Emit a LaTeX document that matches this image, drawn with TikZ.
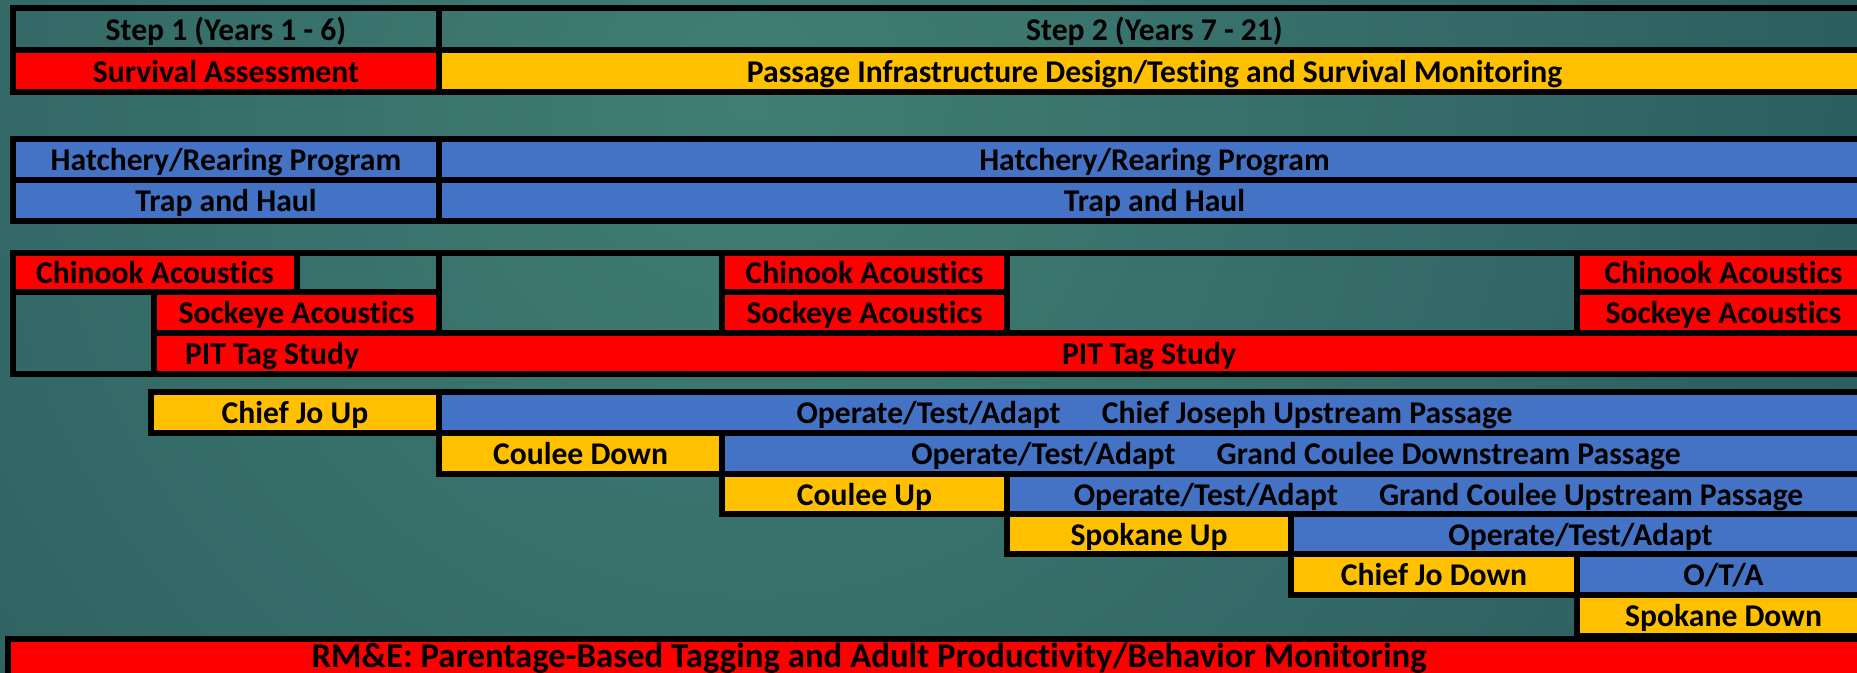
\documentclass[tikz,border=0pt]{standalone}
\usepackage{fontspec}
\setmainfont{Carlito}[Ligatures=NoCommon]
\usetikzlibrary{positioning}

\definecolor{barred}{HTML}{FF0000}
\definecolor{bargold}{HTML}{FFC000}
\definecolor{barblue}{HTML}{4472C4}
\definecolor{bgin}{HTML}{417E74}
\definecolor{bgout}{HTML}{17404C}

\begin{document}
\begin{tikzpicture}[
    cell/.style={draw=black, line width=1.5pt, anchor=north west, inner sep=0pt, outer sep=0pt,
      font=\bfseries\fontsize{9}{10}\selectfont, text height=0.64em, text depth=0pt},
    redbar/.style={cell, fill=barred},
    goldbar/.style={cell, fill=bargold},
    bluebar/.style={cell, fill=barblue},
    blank/.style={cell},
    lbl/.style={inner sep=0pt, font=\bfseries\fontsize{9}{10}\selectfont, text height=0.64em, text depth=0pt}]
    \useasboundingbox (0,0) rectangle (18.57,-6.73);
    \clip (0,0) rectangle (18.57,-6.73);
    \shade[inner color=bgin, outer color=bgout] (7.5,-1.0) circle (22);

    \node[blank, minimum width=4.26cm, minimum height=0.42cm] (step1) at (0.13,-0.08) {Step 1 (Years 1 - 6)};
    \node[blank, right=0pt of step1, minimum width=14.31cm, minimum height=0.42cm] (step2) {Step 2 (Years 7 - 21)};
    \node[redbar, below=0pt of step1, minimum width=4.26cm, minimum height=0.42cm] (surv) {Survival Assessment};
    \node[goldbar, right=0pt of surv, minimum width=14.31cm, minimum height=0.42cm] (design) {Passage Infrastructure Design/Testing and Survival Monitoring};

    \node[bluebar, minimum width=4.26cm, minimum height=0.41cm] (hatch1) at (0.13,-1.39) {Hatchery/Rearing Program};
    \node[bluebar, right=0pt of hatch1, minimum width=14.31cm, minimum height=0.41cm] (hatch2) {Hatchery/Rearing Program};
    \node[bluebar, below=0pt of hatch1, minimum width=4.26cm, minimum height=0.41cm] (trap1) {Trap and Haul};
    \node[bluebar, right=0pt of trap1, minimum width=14.31cm, minimum height=0.41cm] (trap2) {Trap and Haul};

    \node[redbar, minimum width=2.84cm, minimum height=0.39cm] (chin1) at (0.13,-2.53) {Chinook Acoustics};
    \node[blank, right=0pt of chin1, minimum width=1.42cm, minimum height=0.39cm] (gapa) {};
    \node[blank, minimum width=1.41cm, minimum height=0.82cm] (gapb) at (0.13,-2.92) {};
    \node[redbar, minimum width=2.85cm, minimum height=0.41cm] (sock1) at (1.54,-2.92) {Sockeye Acoustics};
    \node[blank, minimum width=2.83cm, minimum height=0.80cm] (gapc) at (4.39,-2.53) {};
    \node[redbar, minimum width=2.85cm, minimum height=0.39cm] (chin2) at (7.22,-2.53) {Chinook Acoustics};
    \node[redbar, below=0pt of chin2, minimum width=2.85cm, minimum height=0.41cm] (sock2) {Sockeye Acoustics};
    \node[blank, minimum width=5.70cm, minimum height=0.80cm] (gapd) at (10.07,-2.53) {};
    \node[redbar, minimum width=2.93cm, minimum height=0.39cm] (chin3) at (15.77,-2.53) {Chinook Acoustics};
    \node[redbar, below=0pt of chin3, minimum width=2.93cm, minimum height=0.41cm] (sock3) {Sockeye Acoustics};
    \node[redbar, minimum width=17.16cm, minimum height=0.41cm] (pit) at (1.54,-3.33) {};
    \node[lbl] (pitlbl1) at (2.72,-3.535) {PIT Tag Study};
    \node[lbl] (pitlbl2) at (11.49,-3.535) {PIT Tag Study};

    \node[goldbar, minimum width=2.88cm, minimum height=0.41cm] (cjup) at (1.51,-3.92) {Chief Jo Up};
    \node[bluebar, right=0pt of cjup, minimum width=14.31cm, minimum height=0.41cm] (cjupota) {Operate/Test/Adapt\hspace{1.3em}Chief Joseph Upstream Passage};
    \node[goldbar, minimum width=2.83cm, minimum height=0.41cm] (gcdown) at (4.39,-4.33) {Coulee Down};
    \node[bluebar, right=0pt of gcdown, minimum width=11.48cm, minimum height=0.41cm] (gcdownota) {Operate/Test/Adapt\hspace{1.3em}Grand Coulee Downstream Passage};
    \node[goldbar, minimum width=2.85cm, minimum height=0.40cm] (gcup) at (7.22,-4.74) {Coulee Up};
    \node[bluebar, right=0pt of gcup, minimum width=8.63cm, minimum height=0.40cm] (gcupota) {Operate/Test/Adapt\hspace{1.3em}Grand Coulee Upstream Passage};
    \node[goldbar, minimum width=2.84cm, minimum height=0.40cm] (spup) at (10.07,-5.14) {Spokane Up};
    \node[bluebar, right=0pt of spup, minimum width=5.79cm, minimum height=0.40cm] (spupota) {Operate/Test/Adapt};
    \node[goldbar, minimum width=2.86cm, minimum height=0.41cm] (cjdown) at (12.91,-5.54) {Chief Jo Down};
    \node[bluebar, right=0pt of cjdown, minimum width=2.93cm, minimum height=0.41cm] (cjdownota) {O/T/A};
    \node[goldbar, minimum width=2.93cm, minimum height=0.41cm] (spdown) at (15.77,-5.95) {Spokane Down};

    \node[redbar, minimum width=18.62cm, minimum height=0.45cm] (rme) at (0.08,-6.39) {};
    \node[lbl, font=\bfseries\fontsize{9.9}{11}\selectfont] (rmelbl) at (8.69,-6.56) {RM\&E: Parentage-Based Tagging and Adult Productivity/Behavior Monitoring};
\end{tikzpicture}
\end{document}
